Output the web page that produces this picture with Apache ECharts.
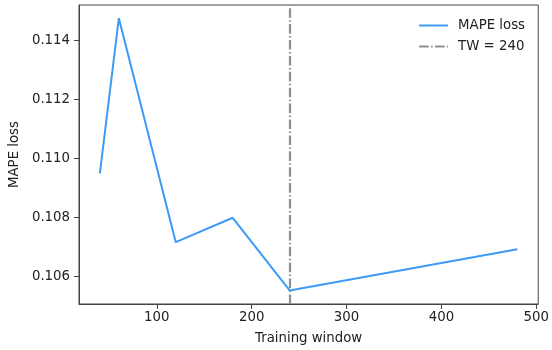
<!DOCTYPE html>
<html>
<head>
<meta charset="utf-8">
<script src="https://cdn.jsdelivr.net/npm/echarts@6/dist/echarts.min.js"></script>
<style>html,body{margin:0;padding:0;background:#fff;}#c{width:552px;height:350px;}</style>
</head>
<body>
<div id="c"></div>
<script>
const trainingWindow = [40, 60, 120, 180, 240, 480];
const mapeLoss = [0.10949, 0.11476, 0.10715, 0.10798, 0.10551, 0.10691];
const twValue = 240;
const xTicks = [100, 200, 300, 400, 500];
const yTicks = [0.106, 0.108, 0.110, 0.112, 0.114];
const seriesNames = ['MAPE loss', 'TW = 240'];

const font = 'DejaVu Sans';
const chart = echarts.init(document.getElementById('c'), null, {renderer: 'canvas'});
chart.setOption({
  animation: false,
  backgroundColor: '#fff',
  grid: {left: 79, top: 5, right: 12, bottom: 46, show: true, borderColor: '#444', borderWidth: 1, backgroundColor: 'transparent'},
  legend: {
    right: 22, top: 14, orient: 'vertical', itemWidth: 29, itemHeight: 10, itemGap: 8,
    itemStyle: {opacity: 0, borderWidth: 0},
    textStyle: {fontFamily: font, fontSize: 13.3, color: '#222', padding: [0, 0, 0, 5]},
    data: seriesNames
  },
  xAxis: {
    type: 'value', min: 18, max: 502,
    name: 'Training window', nameLocation: 'middle', nameGap: 28,
    nameTextStyle: {fontFamily: font, fontSize: 13.3, color: '#222'},
    axisLine: {show: true, lineStyle: {color: '#444', width: 1}},
    axisTick: {show: true, length: 5, lineStyle: {color: '#444'}, customValues: xTicks},
    axisLabel: {fontFamily: font, fontSize: 13.3, color: '#222', margin: 7, customValues: xTicks},
    splitLine: {show: false}
  },
  yAxis: {
    type: 'value', min: 0.10505, max: 0.11521,
    name: 'MAPE loss', nameLocation: 'middle', nameGap: 58,
    nameTextStyle: {fontFamily: font, fontSize: 13.3, color: '#222'},
    axisLine: {show: true, lineStyle: {color: '#444', width: 1}},
    axisTick: {show: true, length: 5, lineStyle: {color: '#444'}, customValues: yTicks},
    axisLabel: {fontFamily: font, fontSize: 13.3, color: '#222', margin: 9, customValues: yTicks,
      formatter: v => v.toFixed(3)},
    splitLine: {show: false}
  },
  series: [
    {
      name: seriesNames[0], type: 'line', showSymbol: false, symbol: 'none',
      data: trainingWindow.map((x, i) => [x, mapeLoss[i]]),
      lineStyle: {color: '#3d9bf7', width: 2},
      itemStyle: {color: '#3d9bf7'}
    },
    {
      name: seriesNames[1], type: 'line', symbol: 'none', data: [],
      lineStyle: {color: '#8f8f8f', width: 2.2, type: [9.6, 2.4, 1.5, 2.4]},
      itemStyle: {color: '#8f8f8f'},
      markLine: {
        silent: true, symbol: ['none', 'none'], label: {show: false},
        lineStyle: {color: '#8f8f8f', width: 2.2, type: [9.6, 2.4, 1.5, 2.4]},
        data: [{xAxis: twValue}]
      }
    }
  ]
});
</script>
</body>
</html>
